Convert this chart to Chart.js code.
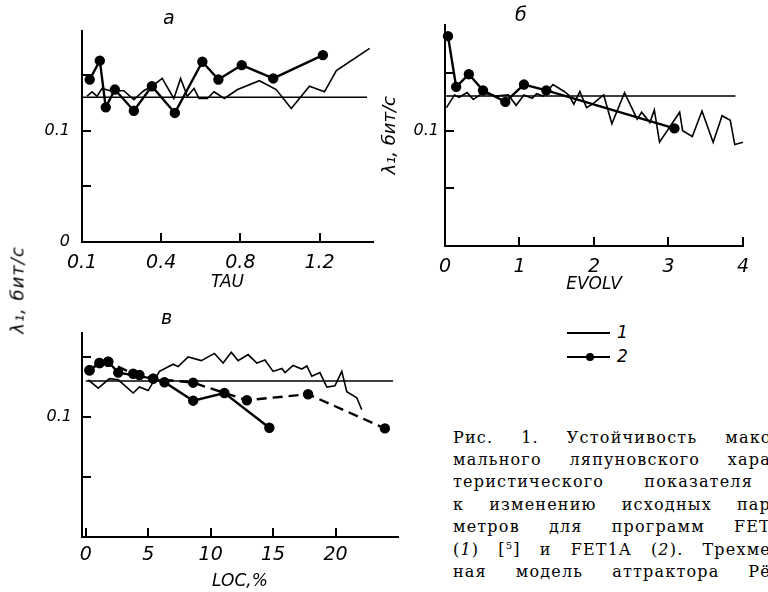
<!DOCTYPE html>
<html>
<head>
<meta charset="utf-8">
<script src="https://cdn.jsdelivr.net/npm/chart.js@4.4.0/dist/chart.umd.min.js"></script>
<style>
  body { margin: 0; width: 768px; height: 592px; overflow: hidden; background: #fff; position: relative; font-family: 'DejaVu Sans', sans-serif; }
  .box { position: absolute; }
  .txt { position: absolute; font-style: italic; color: #000; white-space: nowrap; }
  .ylab { position: absolute; font-style: italic; font-size: 18px; letter-spacing: 1px; transform: translate(-50%, -50%) rotate(-90deg); white-space: nowrap; }
  .cap { position: absolute; left: 453px; width: 318px; font: 16px 'DejaVu Serif', serif; letter-spacing: 1.2px; color: #000; text-align: justify; text-align-last: justify; white-space: nowrap; }
</style>
</head>
<body>

<div class="box" style="left:0;top:0;width:390px;height:300px"><canvas id="grA"></canvas></div>
<div class="box" style="left:380px;top:0;width:388px;height:300px"><canvas id="grB"></canvas></div>
<div class="box" style="left:0;top:300px;width:420px;height:292px"><canvas id="grC"></canvas></div>

<div class="txt" style="left:163px;top:6px;font-size:19px">а</div>
<div class="txt" style="left:515px;top:3px;font-size:19px">б</div>
<div class="txt" style="left:161px;top:306px;font-size:19px">в</div>

<div class="ylab" style="left:17px;top:290px">λ₁, бит/с</div>

<!-- легенда -->
<div class="box" style="left:567px;top:332px;width:43px;border-top:2px solid #000"></div>
<div class="txt" style="left:617px;top:322px;font-size:17px">1</div>
<div class="box" style="left:567px;top:356px;width:43px;border-top:2px solid #000"></div>
<div class="box" style="left:586px;top:353px;width:8px;height:8px;border-radius:50%;background:#000"></div>
<div class="txt" style="left:617px;top:346px;font-size:17px">2</div>

<div class="cap" style="top:428px">Рис. 1. Устойчивость макс</div>
<div class="cap" style="top:450px">мального ляпуновского хара</div>
<div class="cap" style="top:472px;width:300px">теристического показателя</div>
<div class="cap" style="top:495px">к изменению исходных пар</div>
<div class="cap" style="top:517px">метров для программ FET</div>
<div class="cap" style="top:540px">(<i>1</i>) [<sup style="font-size:10px">5</sup>] и FET1A (<i>2</i>). Трехме</div>
<div class="cap" style="top:562px">ная модель аттрактора Рё</div>

<script>
// уровень lambda1 (горизонтальная линия)
const lambdaRef = 0.13;

// а: TAU
const tauX1 = [0.025, 0.051, 0.076, 0.101, 0.142, 0.211, 0.262, 0.312, 0.354, 0.405, 0.464, 0.498, 0.532, 0.566, 0.591, 0.633, 0.667, 0.719, 0.786, 0.896, 0.981, 1.057, 1.149, 1.225, 1.285, 1.453];
const tauY1 = [0.131, 0.135, 0.131, 0.138, 0.136, 0.136, 0.128, 0.136, 0.140, 0.147, 0.129, 0.147, 0.131, 0.138, 0.129, 0.129, 0.135, 0.129, 0.137, 0.145, 0.137, 0.120, 0.140, 0.135, 0.154, 0.174];
const tauX2 = [0.039, 0.090, 0.120, 0.166, 0.262, 0.353, 0.469, 0.608, 0.689, 0.807, 0.966, 1.217];
const tauY2 = [0.146, 0.163, 0.121, 0.137, 0.118, 0.140, 0.116, 0.162, 0.146, 0.159, 0.147, 0.168];
const tauTicks = [0, 0.4, 0.8, 1.2];
const tauTickLabels = ['0.1', '0.4', '0.8', '1.2'];

// б: EVOLV
const evolvX1 = [0.02, 0.127, 0.19, 0.297, 0.38, 0.51, 0.68, 0.85, 0.955, 1.06, 1.17, 1.23, 1.32, 1.45, 1.60, 1.66, 1.73, 1.81, 1.90, 1.98, 2.13, 2.24, 2.41, 2.58, 2.64, 2.75, 2.81, 2.88, 3.15, 3.19, 3.32, 3.45, 3.60, 3.72, 3.83, 3.89, 4.0];
const evolvY1 = [0.120, 0.131, 0.129, 0.133, 0.127, 0.133, 0.130, 0.131, 0.122, 0.131, 0.128, 0.132, 0.130, 0.140, 0.134, 0.131, 0.123, 0.134, 0.120, 0.123, 0.131, 0.106, 0.133, 0.110, 0.116, 0.107, 0.118, 0.090, 0.116, 0.100, 0.095, 0.117, 0.090, 0.113, 0.109, 0.088, 0.090];
const evolvX2 = [0.04, 0.15, 0.32, 0.51, 0.81, 1.06, 1.36, 3.08];
const evolvY2 = [0.182, 0.138, 0.149, 0.135, 0.125, 0.140, 0.135, 0.102];
const evolvTicks = [0, 1, 2, 3, 4];
const evolvTickLabels = ['0', '1', '2', '3', '4'];

// в: LOC,%
const locX1 = [0.2, 1.0, 1.9, 2.6, 3.8, 4.3, 5.0, 5.9, 7.0, 7.4, 8.2, 9.25, 10.3, 11.0, 11.65, 12.2, 13.0, 13.7, 14.35, 15.0, 15.7, 15.95, 16.6, 17.3, 17.7, 18.1, 18.75, 19.3, 19.95, 20.5, 20.9, 21.7, 22.1];
const locY1 = [0.131, 0.124, 0.132, 0.131, 0.120, 0.125, 0.122, 0.138, 0.144, 0.142, 0.150, 0.147, 0.153, 0.145, 0.154, 0.147, 0.152, 0.145, 0.1475, 0.138, 0.1405, 0.137, 0.143, 0.140, 0.1425, 0.134, 0.137, 0.125, 0.126, 0.138, 0.121, 0.116, 0.106];
const locX2 = [0.3, 1.1, 1.8, 2.6, 5.4, 6.3, 8.6, 11.1, 14.7];
const locY2 = [0.139, 0.145, 0.146, 0.137, 0.132, 0.129, 0.1136, 0.120, 0.091];
const locX3 = [0.3, 1.1, 1.8, 3.8, 4.3, 5.4, 8.6, 12.9, 17.8, 23.95];
const locY3 = [0.139, 0.145, 0.146, 0.136, 0.135, 0.132, 0.1286, 0.114, 0.119, 0.0905];
const locTicks = [0, 5, 10, 15, 20];
const locTickLabels = ['0', '5', '10', '15', '20'];

const yTicks = [0, 0.05, 0.1, 0.15];

Chart.defaults.font.family = "'DejaVu Sans', sans-serif";
Chart.defaults.font.style = 'italic';
Chart.defaults.color = '#000';

function toPoints(xs, ys) {
  return xs.map((x, i) => ({x: x, y: ys[i]}));
}

function panel(id, p) {
  let datasets = [
    {data: [{x: 0, y: lambdaRef}, {x: p.refEnd, y: lambdaRef}], borderColor: '#000', borderWidth: 1.5, pointRadius: 0},
    {data: toPoints(p.x1, p.y1), borderColor: '#000', borderWidth: 1.6, pointRadius: 0}
  ];
  p.dots.forEach(s => {
    datasets.push({
      data: toPoints(s[0], s[1]), borderColor: '#000', backgroundColor: '#000',
      borderWidth: 2.4, pointRadius: 4, borderDash: s[2] || []
    });
  });

  return new Chart(document.getElementById(id), {
    type: 'line',
    data: {datasets: datasets},
    options: {
      responsive: true,
      maintainAspectRatio: false,
      animation: false,
      clip: false,
      layout: {padding: {top: p.padTop, right: p.padRight, left: 0, bottom: 0}},
      plugins: {legend: {display: false}, tooltip: {enabled: false}},
      elements: {line: {tension: 0}},
      scales: {
        x: {
          type: 'linear', min: p.xMin, max: p.xMax,
          afterBuildTicks: s => { s.ticks = p.xTicks.map(v => ({value: v})); },
          afterFit: s => { s.height = p.xH; },
          border: {color: '#000', width: 2},
          grid: {drawOnChartArea: false, tickLength: -9, color: '#000', lineWidth: 2},
          ticks: {padding: p.xPad, font: {size: 19}, maxRotation: 0, callback: (v, i) => p.xLabels[i]},
          title: {display: true, text: p.xTitle, font: {size: 17}, padding: {top: 0, bottom: p.titlePad}}
        },
        y: {
          min: 0, max: p.yMax,
          afterBuildTicks: s => { s.ticks = yTicks.map(v => ({value: v})); },
          afterFit: s => { s.width = p.yW; },
          border: {color: '#000', width: 2},
          grid: {drawOnChartArea: false, tickLength: -9, color: '#000', lineWidth: 2},
          ticks: {padding: p.yPad, font: {size: 16}, callback: v => p.yShown.includes(v) ? String(v) : ''},
          title: {display: !!p.yTitle, text: p.yTitle, font: {size: 18}, padding: {top: 0, bottom: 0}}
        }
      }
    }
  });
}

panel('grA', {
  x1: tauX1, y1: tauY1, dots: [[tauX2, tauY2]],
  refEnd: 1.44, xMin: 0, xMax: 1.47, yMax: 0.19,
  xTicks: tauTicks, xLabels: tauTickLabels, xTitle: 'TAU',
  padTop: 16, padRight: 17, xH: 58, yW: 82, xPad: 19, yPad: 21, titlePad: 7,
  yShown: [0, 0.1]
});

panel('grB', {
  x1: evolvX1, y1: evolvY1, dots: [[evolvX2, evolvY2]],
  refEnd: 3.9, xMin: 0, xMax: 4, yMax: 0.192,
  xTicks: evolvTicks, xLabels: evolvTickLabels, xTitle: 'EVOLV', yTitle: 'λ₁, бит/с',
  padTop: 17, padRight: 9, xH: 54, yW: 65, xPad: 19, yPad: 15, titlePad: 5,
  yShown: [0.1]
});

panel('grC', {
  x1: locX1, y1: locY1, dots: [[locX2, locY2], [locX3, locY3, [10, 6]]],
  refEnd: 24.6, xMin: -0.3, xMax: 25, yMax: 0.17,
  xTicks: locTicks, xLabels: locTickLabels, xTitle: 'LOC,%',
  padTop: 33, padRight: 22, xH: 55, yW: 82, xPad: 16, yPad: 19, titlePad: 0,
  yShown: [0.1]
});
</script>
</body>
</html>
